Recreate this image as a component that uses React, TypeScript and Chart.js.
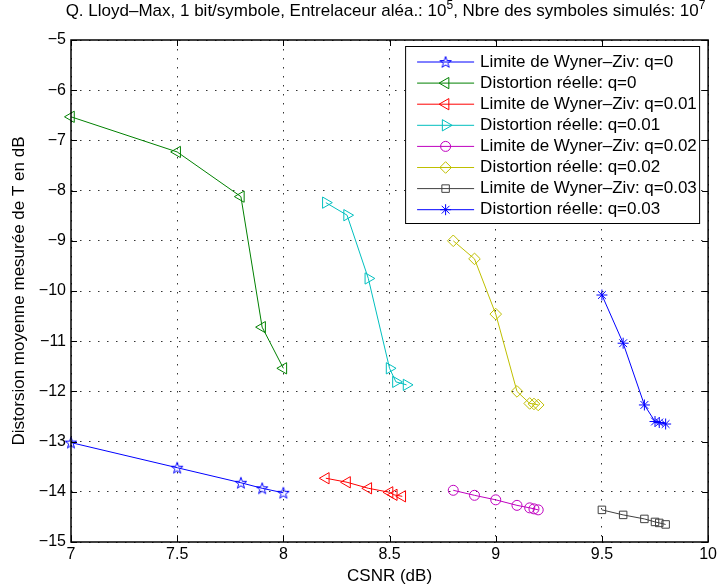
import React, { useEffect, useRef } from 'react';
import { Chart, registerables } from 'chart.js';

Chart.register(...registerables);

const FONT = '"Liberation Sans", Arial, Helvetica, sans-serif';

// ---- data ----
const xTicks = [7, 7.5, 8, 8.5, 9, 9.5, 10];
const yTicks = [-15, -14, -13, -12, -11, -10, -9, -8, -7, -6, -5];

const wzQ0X = [7, 7.5, 7.8, 7.9, 8];
const wzQ0Y = [-13.02, -13.52, -13.82, -13.93, -14.02];
const drQ0X = [7, 7.5, 7.8, 7.9, 8];
const drQ0Y = [-6.53, -7.23, -8.12, -10.72, -11.54];
const wzQ01X = [8.2, 8.3, 8.4, 8.5, 8.52, 8.56];
const wzQ01Y = [-13.73, -13.81, -13.93, -14.01, -14.06, -14.09];
const drQ01X = [8.2, 8.3, 8.4, 8.5, 8.53, 8.58];
const drQ01Y = [-8.24, -8.49, -9.75, -11.54, -11.81, -11.87];
const wzQ02X = [8.8, 8.9, 9.0, 9.1, 9.16, 9.18, 9.2];
const wzQ02Y = [-13.97, -14.07, -14.16, -14.27, -14.32, -14.34, -14.36];
const drQ02X = [8.8, 8.9, 9.0, 9.1, 9.16, 9.18, 9.2];
const drQ02Y = [-9.0, -9.36, -10.46, -12.0, -12.24, -12.25, -12.27];
const wzQ03X = [9.5, 9.6, 9.7, 9.75, 9.77, 9.8];
const wzQ03Y = [-14.36, -14.46, -14.54, -14.6, -14.62, -14.65];
const drQ03X = [9.5, 9.6, 9.7, 9.75, 9.77, 9.8];
const drQ03Y = [-10.08, -11.04, -12.27, -12.6, -12.62, -12.65];

const seriesLabels = [
  'Limite de Wyner–Ziv: q=0',
  'Distortion réelle: q=0',
  'Limite de Wyner–Ziv: q=0.01',
  'Distortion réelle: q=0.01',
  'Limite de Wyner–Ziv: q=0.02',
  'Distortion réelle: q=0.02',
  'Limite de Wyner–Ziv: q=0.03',
  'Distortion réelle: q=0.03',
];
const seriesX = [wzQ0X, drQ0X, wzQ01X, drQ01X, wzQ02X, drQ02X, wzQ03X, drQ03X];
const seriesY = [wzQ0Y, drQ0Y, wzQ01Y, drQ01Y, wzQ02Y, drQ02Y, wzQ03Y, drQ03Y];
const seriesColors = ['#0000ff', '#008000', '#ff0000', '#00bfbf', '#bf00bf', '#bfbf00', '#404040', '#0000ff'];
const seriesMarkers = ['pent', 'triL', 'triL', 'triR', 'circle', 'diamond', 'square', 'aster'];

const titleParts: { t: string; sup: boolean }[] = [
  { t: 'Q. Lloyd–Max, 1 bit/symbole, Entrelaceur aléa.: 10', sup: false },
  { t: '5', sup: true },
  { t: ', Nbre des symboles simulés: 10', sup: false },
  { t: '7', sup: true },
];

// ---- marker helpers ----
const markerRadius: Record<string, number> = {
  pent: 6, triL: 6.5, triR: 6.5, circle: 5, diamond: 5.8, square: 5.3, aster: 5.5,
};

function makePentagram(color: string, r: number) {
  const size = Math.ceil(2 * r + 4);
  const c = document.createElement('canvas');
  c.width = size;
  c.height = size;
  const ctx = c.getContext('2d')!;
  const cx = size / 2, cy = size / 2 + 0.5;
  const ri = r * 0.4;
  ctx.beginPath();
  for (let i = 0; i < 10; i++) {
    const ang = -Math.PI / 2 + (i * Math.PI) / 5;
    const rad = i % 2 ? ri : r;
    const px = cx + Math.cos(ang) * rad;
    const py = cy + Math.sin(ang) * rad;
    if (i === 0) ctx.moveTo(px, py); else ctx.lineTo(px, py);
  }
  ctx.closePath();
  ctx.strokeStyle = color;
  ctx.lineWidth = 1;
  ctx.stroke();
  return c;
}

function drawMarker(ctx: CanvasRenderingContext2D, kind: string, x: number, y: number, color: string, pent: HTMLCanvasElement) {
  const r = markerRadius[kind];
  ctx.save();
  ctx.strokeStyle = color;
  ctx.lineWidth = 1;
  ctx.beginPath();
  if (kind === 'pent') {
    ctx.drawImage(pent, x - pent.width / 2, y - pent.height / 2);
    ctx.restore();
    return;
  }
  if (kind === 'triL' || kind === 'triR') {
    let rad = kind === 'triL' ? -Math.PI / 2 : Math.PI / 2;
    for (let i = 0; i < 3; i++) {
      const px = x + Math.sin(rad) * r;
      const py = y - Math.cos(rad) * r;
      if (i === 0) ctx.moveTo(px, py); else ctx.lineTo(px, py);
      rad += (2 * Math.PI) / 3;
    }
    ctx.closePath();
  } else if (kind === 'circle') {
    ctx.arc(x, y, r, 0, Math.PI * 2);
  } else if (kind === 'diamond') {
    ctx.moveTo(x, y - r);
    ctx.lineTo(x + r, y);
    ctx.lineTo(x, y + r);
    ctx.lineTo(x - r, y);
    ctx.closePath();
  } else if (kind === 'square') {
    const h = r * Math.SQRT1_2;
    ctx.rect(x - h, y - h, 2 * h, 2 * h);
  } else if (kind === 'aster') {
    ctx.moveTo(x - r, y); ctx.lineTo(x + r, y);
    ctx.moveTo(x, y - r); ctx.lineTo(x, y + r);
    const d = r * Math.SQRT1_2;
    ctx.moveTo(x - d, y - d); ctx.lineTo(x + d, y + d);
    ctx.moveTo(x - d, y + d); ctx.lineTo(x + d, y - d);
  }
  ctx.stroke();
  ctx.restore();
}

export default function App() {
  const ref = useRef<HTMLCanvasElement | null>(null);

  useEffect(() => {
    if (!ref.current) return;
    const pentImgs: Record<string, HTMLCanvasElement> = {};
    const getPent = (c: string) => (pentImgs[c] = pentImgs[c] || makePentagram(c, markerRadius.pent));

    const datasets = seriesLabels.map((label, i) => {
      const kind = seriesMarkers[i];
      const color = seriesColors[i];
      let pointStyle: any = 'circle';
      let rotation = 0;
      if (kind === 'pent') pointStyle = getPent(color);
      else if (kind === 'triL') { pointStyle = 'triangle'; rotation = -90; }
      else if (kind === 'triR') { pointStyle = 'triangle'; rotation = 90; }
      else if (kind === 'circle') pointStyle = 'circle';
      else if (kind === 'diamond') pointStyle = 'rectRot';
      else if (kind === 'square') pointStyle = 'rect';
      else if (kind === 'aster') pointStyle = 'star';
      return {
        label,
        data: seriesX[i].map((x, j) => ({ x, y: seriesY[i][j] })),
        showLine: true,
        borderColor: color,
        backgroundColor: 'rgba(0,0,0,0)',
        borderWidth: 1,
        pointStyle,
        rotation,
        pointRadius: markerRadius[kind],
        pointBorderWidth: 1,
        pointBorderColor: color,
        pointBackgroundColor: 'rgba(0,0,0,0)',
        clip: false as any,
        tension: 0,
        order: seriesLabels.length - i,
      };
    });

    const decor = {
      id: 'decor',
      afterDatasetsDraw(chart: any) {
        const { ctx, chartArea: a, scales } = chart;
        ctx.save();
        ctx.strokeStyle = '#000';
        ctx.lineWidth = 1;
        const tl = 6;
        ctx.beginPath();
        xTicks.forEach((v) => {
          const px = Math.round(scales.x.getPixelForValue(v)) + 0.5;
          ctx.moveTo(px, a.bottom); ctx.lineTo(px, a.bottom - tl);
          ctx.moveTo(px, a.top); ctx.lineTo(px, a.top + tl);
        });
        yTicks.forEach((v) => {
          const py = Math.round(scales.y.getPixelForValue(v)) + 0.5;
          ctx.moveTo(a.left, py); ctx.lineTo(a.left + tl, py);
          ctx.moveTo(a.right, py); ctx.lineTo(a.right - tl, py);
        });
        ctx.stroke();
        // axes box
        ctx.lineWidth = 1.5;
        ctx.strokeRect(a.left, a.top, a.right - a.left, a.bottom - a.top);

        // legend
        const lx = a.right - 303, ly = a.top + 6, lw = 294, lh = 177;
        ctx.fillStyle = '#fff';
        ctx.fillRect(lx, ly, lw, lh);
        ctx.lineWidth = 1;
        ctx.strokeStyle = '#000';
        ctx.strokeRect(lx + 0.5, ly + 0.5, lw, lh);
        ctx.font = `17px ${FONT}`;
        ctx.textBaseline = 'middle';
        ctx.textAlign = 'left';
        seriesLabels.forEach((label, i) => {
          const yy = ly + 16 + i * 21.1;
          const color = seriesColors[i];
          ctx.strokeStyle = color;
          ctx.lineWidth = 1;
          ctx.beginPath();
          ctx.moveTo(lx + 12, yy);
          ctx.lineTo(lx + 69, yy);
          ctx.stroke();
          drawMarker(ctx, seriesMarkers[i], lx + 40.5, yy, color, getPent(color));
          ctx.fillStyle = '#000';
          ctx.fillText(label, lx + 75, yy);
        });
        ctx.restore();
      },
      afterDraw(chart: any) {
        const { ctx, chartArea: a } = chart;
        ctx.save();
        ctx.fillStyle = '#000';
        ctx.textBaseline = 'alphabetic';
        ctx.textAlign = 'left';
        const mainFont = `17px ${FONT}`;
        const supFont = `12px ${FONT}`;
        let total = 0;
        titleParts.forEach((p) => {
          ctx.font = p.sup ? supFont : mainFont;
          total += ctx.measureText(p.t).width;
        });
        let x = (a.left + a.right) / 2 - 4 - total / 2;
        const base = 16;
        titleParts.forEach((p) => {
          ctx.font = p.sup ? supFont : mainFont;
          ctx.fillText(p.t, x, p.sup ? base - 7 : base);
          x += ctx.measureText(p.t).width;
        });
        ctx.restore();
      },
    };

    const chart = new Chart(ref.current, {
      type: 'scatter',
      data: { datasets: datasets as any },
      options: {
        animation: false,
        responsive: false,
        devicePixelRatio: 1,
        layout: { padding: { top: 40, right: 9, bottom: 0, left: 0 } },
        plugins: {
          legend: { display: false },
          title: { display: false },
          tooltip: { enabled: false },
        },
        scales: {
          x: {
            type: 'linear',
            min: 7,
            max: 10,
            afterBuildTicks: (s: any) => { s.ticks = xTicks.map((v) => ({ value: v })); },
            afterFit: (s: any) => { s.height = 45; },
            ticks: {
              color: '#000',
              font: { family: FONT, size: 16 },
              padding: 3,
              maxRotation: 0,
              autoSkip: false,
              callback: (v: any) => String(v),
            },
            grid: { color: 'rgba(0,0,0,0.8)', lineWidth: 1, drawTicks: false },
            border: { display: false, dash: [1.5, 7.5] },
            title: {
              display: true,
              text: 'CSNR (dB)',
              color: '#000',
              font: { family: FONT, size: 17 },
              padding: { top: 0, bottom: 0 },
            },
          },
          y: {
            type: 'linear',
            min: -15,
            max: -5,
            afterBuildTicks: (s: any) => { s.ticks = yTicks.map((v) => ({ value: v })); },
            afterFit: (s: any) => { s.width = 71; },
            ticks: {
              color: '#000',
              font: { family: FONT, size: 16 },
              padding: 5,
              autoSkip: false,
              callback: (v: any) => (v < 0 ? '\u2212' + Math.abs(v) : String(v)),
            },
            grid: { color: 'rgba(0,0,0,0.8)', lineWidth: 1, drawTicks: false },
            border: { display: false, dash: [1.5, 7.5] },
            title: {
              display: true,
              text: 'Distorsion moyenne mesurée de T en dB',
              color: '#000',
              font: { family: FONT, size: 17 },
              padding: { top: 9, bottom: 0 },
            },
          },
        },
      },
      plugins: [decor],
    });
    return () => chart.destroy();
  }, []);

  return (
    <div style={{ position: 'absolute', left: 0, top: 0, width: 720, height: 587, background: '#fff' }}>
      <canvas ref={ref} width={720} height={587} style={{ width: 720, height: 587, display: 'block' }} />
    </div>
  );
}
